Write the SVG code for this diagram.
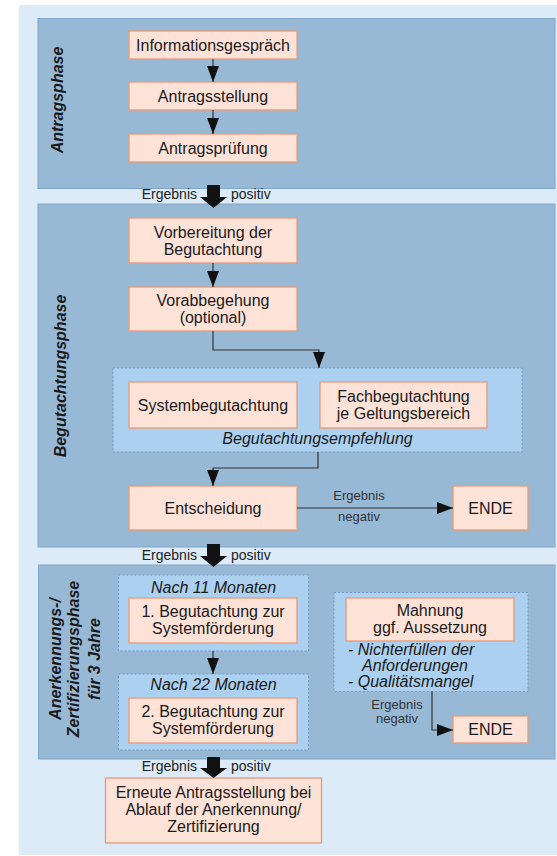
<svg xmlns="http://www.w3.org/2000/svg" width="557" height="856" viewBox="0 0 557 856">
<defs>
<style>
text{font-family:"Liberation Sans",Arial,sans-serif;fill:#1a1a1a}
.bg{fill:#dcebf7}
.phase{fill:#98b9d5;stroke:#7fa6c8;stroke-width:1}
.grp{fill:#acd0ef;stroke:#6f9bc4;stroke-width:1;stroke-dasharray:2 2}
.node{fill:#fde2d8;stroke:#e79a78;stroke-width:1.3}
.nt{font-size:16px;text-anchor:middle}
.it{font-size:16px;font-style:italic}
.pl{font-size:16px;font-weight:bold;font-style:italic;text-anchor:middle}
.sm{font-size:13px;fill:#333;text-anchor:middle}
.lb{font-size:14px;fill:#222}
.con{fill:none;stroke:#333;stroke-width:1.2}
.blk{fill:#111}
</style>
<marker id="ah" markerUnits="userSpaceOnUse" markerWidth="16" markerHeight="12" refX="16" refY="6" orient="auto">
<path d="M0,0 L16,6 L0,12 z" fill="#111"/>
</marker>
</defs>
<rect class="bg" x="19" y="5" width="538" height="850"/>

<g id="phase1">
<rect class="phase" x="38" y="18.5" width="517" height="170"/>
<text class="pl" transform="translate(63,100) rotate(-90)">Antragsphase</text>
</g>
<g id="phase2">
<rect class="phase" x="38" y="204" width="517" height="343"/>
<text class="pl" transform="translate(66,376) rotate(-90)">Begutachtungsphase</text>
</g>
<g id="phase3">
<rect class="phase" x="38.5" y="565" width="516.5" height="194"/>
<text class="pl" transform="translate(61,659) rotate(-90)">Anerkennungs-/</text>
<text class="pl" transform="translate(78.5,659) rotate(-90)">Zertifizierungsphase</text>
<text class="pl" transform="translate(100,659) rotate(-90)">für 3 Jahre</text>
</g>

<g id="n-info"><rect class="node" x="129" y="31" width="168" height="28"/><text class="nt" x="213" y="50.5">Informationsgespräch</text></g>
<g id="n-antrag"><rect class="node" x="129" y="82" width="168" height="28"/><text class="nt" x="213" y="101.5">Antragsstellung</text></g>
<g id="n-pruef"><rect class="node" x="129" y="134" width="168" height="28"/><text class="nt" x="213" y="153.5">Antragsprüfung</text></g>

<g id="n-vorb"><rect class="node" x="129" y="218" width="168" height="45"/><text class="nt" x="213" y="237.5">Vorbereitung der</text><text class="nt" x="213" y="254.5">Begutachtung</text></g>
<g id="n-vorab"><rect class="node" x="129" y="287" width="168" height="44"/><text class="nt" x="213" y="305.5">Vorabbegehung</text><text class="nt" x="213" y="322.5">(optional)</text></g>

<g id="g-begut">
<rect class="grp" x="113" y="368" width="409" height="84"/>
<text class="it" x="317.5" y="444" text-anchor="middle">Begutachtungsempfehlung</text>
</g>
<g id="n-system"><rect class="node" x="129" y="382" width="168" height="46"/><text class="nt" x="213" y="410.5">Systembegutachtung</text></g>
<g id="n-fach"><rect class="node" x="320" y="382" width="167" height="46"/><text class="nt" x="403.5" y="402">Fachbegutachtung</text><text class="nt" x="403.5" y="419">je Geltungsbereich</text></g>

<g id="n-entsch"><rect class="node" x="129" y="486" width="168" height="44"/><text class="nt" x="213" y="513.5">Entscheidung</text></g>
<g id="n-ende1"><rect class="node" x="453" y="486" width="75" height="44"/><text class="nt" x="490.5" y="513.5">ENDE</text></g>

<g id="g-nach11">
<rect class="grp" x="118.5" y="575" width="190" height="76"/>
<text class="it" x="213.5" y="593" text-anchor="middle">Nach 11 Monaten</text>
</g>
<g id="n-beg1"><rect class="node" x="129" y="598" width="168" height="45"/><text class="nt" x="213" y="617">1. Begutachtung zur</text><text class="nt" x="213" y="634">Systemförderung</text></g>

<g id="g-nach22">
<rect class="grp" x="118.5" y="674" width="190" height="76"/>
<text class="it" x="213.5" y="690" text-anchor="middle">Nach 22 Monaten</text>
</g>
<g id="n-beg2"><rect class="node" x="129" y="698" width="168" height="45"/><text class="nt" x="213" y="717">2. Begutachtung zur</text><text class="nt" x="213" y="734">Systemförderung</text></g>

<g id="g-mahn">
<rect class="grp" x="334" y="592.5" width="194" height="99"/>
<text class="it" x="348" y="655">- Nichterfüllen der</text>
<text class="it" x="362" y="671">Anforderungen</text>
<text class="it" x="348" y="687">- Qualitätsmangel</text>
</g>
<g id="n-mahn"><rect class="node" x="346" y="598" width="168" height="43"/><text class="nt" x="430" y="616">Mahnung</text><text class="nt" x="430" y="633">ggf. Aussetzung</text></g>
<g id="n-ende2"><rect class="node" x="453" y="716" width="75" height="27"/><text class="nt" x="490.5" y="735">ENDE</text></g>

<g id="n-erneut"><rect class="node" x="105.5" y="778" width="216" height="65"/><text class="nt" x="213.5" y="798">Erneute Antragsstellung bei</text><text class="nt" x="213.5" y="815">Ablauf der Anerkennung/</text><text class="nt" x="213.5" y="832">Zertifizierung</text></g>

<g id="connectors">
<path class="con" d="M213,59 V82" marker-end="url(#ah)"/>
<path class="con" d="M213,110 V134" marker-end="url(#ah)"/>
<path class="con" d="M213,263 V287" marker-end="url(#ah)"/>
<path class="con" d="M213,331 V350 H319 V368" marker-end="url(#ah)"/>
<path class="con" d="M318,452 V468 H213 V486" marker-end="url(#ah)"/>
<path class="con" d="M297,508 H453" marker-end="url(#ah)"/>
<path class="con" d="M213,651 V674" marker-end="url(#ah)"/>
<path class="con" d="M432,691.5 V730 H453" marker-end="url(#ah)"/>
<polygon class="blk" points="207,185 220,185 220,197 227,197 213.5,208 200,197 207,197"/>
<polygon class="blk" points="207,544 220,544 220,556 227,556 213.5,567 200,556 207,556"/>
<polygon class="blk" points="207,757 220,757 220,768 227,768 213.5,778 200,768 207,768"/>
<text class="lb" x="197" y="199" text-anchor="end">Ergebnis</text>
<text class="lb" x="231" y="199">positiv</text>
<text class="lb" x="197" y="560" text-anchor="end">Ergebnis</text>
<text class="lb" x="231" y="560">positiv</text>
<text class="lb" x="197" y="771" text-anchor="end">Ergebnis</text>
<text class="lb" x="231" y="771">positiv</text>
<text class="sm" x="359" y="500">Ergebnis</text>
<text class="sm" x="359" y="521">negativ</text>
<text class="sm" x="397" y="709">Ergebnis</text>
<text class="sm" x="397" y="723">negativ</text>
</g>
</svg>
